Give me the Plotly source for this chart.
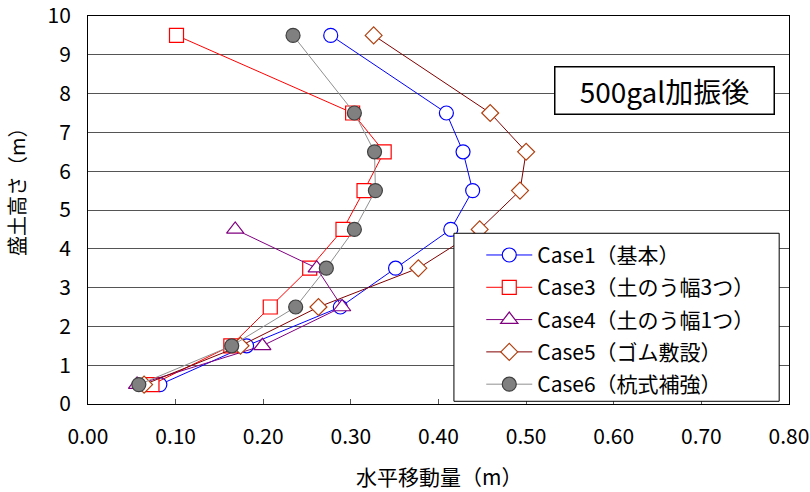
import plotly.graph_objects as go

heights = [9.5, 7.5, 6.5, 5.5, 4.5, 3.5, 2.5, 1.5, 0.5]
heights4 = [4.5, 3.5, 2.5, 1.5, 0.5]

case1 = [0.277, 0.409, 0.428, 0.439, 0.414, 0.351, 0.288, 0.181, 0.082]
case3 = [0.101, 0.302, 0.338, 0.315, 0.291, 0.253, 0.208, 0.163, 0.073]
case4 = [0.168, 0.261, 0.290, 0.199, 0.056]
case5 = [0.326, 0.459, 0.500, 0.493, 0.447, 0.377, 0.263, 0.174, 0.064]
case6 = [0.234, 0.304, 0.327, 0.328, 0.304, 0.272, 0.237, 0.164, 0.058]

names = ["Case1（基本）", "Case3（土のう幅3つ）", "Case4（土のう幅1つ）", "Case5（ゴム敷設）", "Case6（杭式補強）"]
x_ticks = [0.0, 0.1, 0.2, 0.3, 0.4, 0.5, 0.6, 0.7, 0.8]
y_ticks = [0, 1, 2, 3, 4, 5, 6, 7, 8, 9, 10]

FONT = "Noto Sans CJK JP"

fig = go.Figure()

def add(x, y, name, line_color, symbol, fill, mline, size, grp):
    fig.add_trace(go.Scatter(
        x=x, y=y, name=name, mode="lines+markers",
        line=dict(color=line_color, width=1),
        marker=dict(symbol=symbol, size=size, color=fill, line=dict(color=mline, width=1.2)),
        legendgroup=grp,
    ))

add(case1, heights, names[0], "#0000FF", "circle", "white", "#0000FF", 14, "a")
add(case3, heights, names[1], "#FF0000", "square", "white", "#FF0000", 14, "b")
add(case4, heights4, names[2], "#800080", "triangle-up", "white", "#800080", 15, "c")
add(case5, heights, names[3], "#800000", "diamond", "white", "#B04010", 13, "d")
add(case6, heights, names[4], "#909090", "circle", "#808080", "#404040", 14, "e")

# legend frame
fig.add_shape(
    type="rect", xref="paper", yref="paper",
    x0=0.522, x1=0.986, y0=0.007, y1=0.440,
    line=dict(color="black", width=1), fillcolor="white", layer="above",
)

fig.add_annotation(
    x=0.822, y=0.809, xref="paper", yref="paper", xanchor="center", yanchor="middle",
    text="500gal加振後", showarrow=False,
    font=dict(family=FONT, size=28, color="black"),
    bordercolor="black", borderwidth=1.5, bgcolor="white",
    width=214, height=42, borderpad=2,
)

# axis titles
fig.add_annotation(
    x=0.5, y=-0.185, xref="paper", yref="paper", xanchor="center", yanchor="middle",
    text="水平移動量（m）", showarrow=False,
    font=dict(family=FONT, size=21, color="black"),
)
fig.add_annotation(
    x=-0.101, y=0.56, xref="paper", yref="paper", xanchor="center", yanchor="middle",
    text="盛土高さ（m）", showarrow=False, textangle=-90,
    font=dict(family=FONT, size=20, color="black"),
)

fig.update_layout(
    width=810, height=492,
    margin=dict(l=88, r=21, t=16, b=88, autoexpand=False),
    paper_bgcolor="white", plot_bgcolor="white",
    font=dict(family=FONT, color="black"),
    showlegend=True,
    legend=dict(
        x=0.561, y=0.436, xanchor="left", yanchor="top",
        bgcolor="rgba(0,0,0,0)", borderwidth=0,
        font=dict(family=FONT, size=21, color="black"),
        tracegroupgap=2, itemwidth=46,
    ),
    xaxis=dict(
        range=[0, 0.8], tickvals=x_ticks, ticktext=[f"{v:.2f}" for v in x_ticks],
        showgrid=False, zeroline=False, automargin=False,
        showline=True, linecolor="black", linewidth=1, mirror=True,
        ticks="inside", ticklen=5, tickcolor="#555555",
        ticklabelstandoff=14, ticklabeloverflow="allow",
        tickfont=dict(family=FONT, size=21),
    ),
    yaxis=dict(
        range=[0, 10], tickvals=y_ticks,
        showgrid=True, gridcolor="#555555", gridwidth=1, zeroline=False, automargin=False,
        showline=True, linecolor="black", linewidth=1, mirror=True,
        ticks="inside", ticklen=5, tickcolor="#555555",
        ticklabelstandoff=12, ticklabeloverflow="allow",
        tickfont=dict(family=FONT, size=21),
    ),
)

fig.write_html("out.html")
